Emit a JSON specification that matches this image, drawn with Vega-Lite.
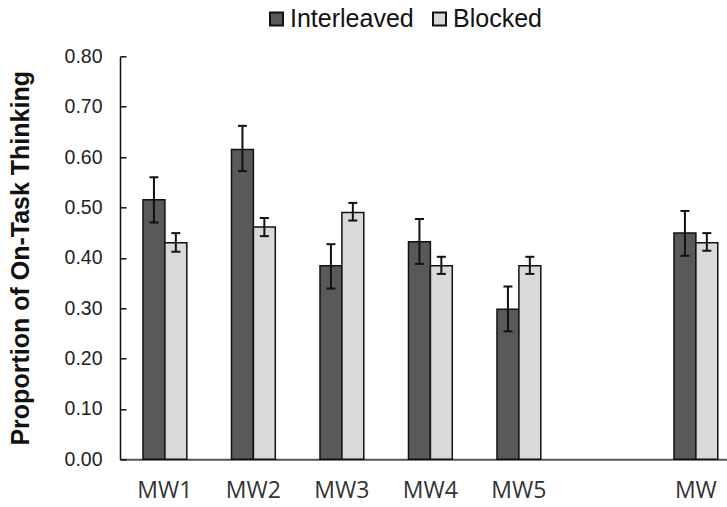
{
  "$schema": "https://vega.github.io/schema/vega-lite/v6.json",
  "width": 607,
  "height": 403,
  "autosize": {"type": "none"},
  "padding": {"left": 120, "top": 56.3, "right": 0, "bottom": 47.7},
  "background": "white",
  "config": {"view": {"stroke": null}},
  "data": {
    "values": [
      {"cat": "MW1", "cond": "Interleaved", "value": 0.515, "lo": 0.470, "hi": 0.560},
      {"cat": "MW1", "cond": "Blocked", "value": 0.430, "lo": 0.412, "hi": 0.449},
      {"cat": "MW2", "cond": "Interleaved", "value": 0.615, "lo": 0.572, "hi": 0.662},
      {"cat": "MW2", "cond": "Blocked", "value": 0.461, "lo": 0.443, "hi": 0.479},
      {"cat": "MW3", "cond": "Interleaved", "value": 0.384, "lo": 0.339, "hi": 0.427},
      {"cat": "MW3", "cond": "Blocked", "value": 0.490, "lo": 0.474, "hi": 0.509},
      {"cat": "MW4", "cond": "Interleaved", "value": 0.432, "lo": 0.388, "hi": 0.477},
      {"cat": "MW4", "cond": "Blocked", "value": 0.384, "lo": 0.368, "hi": 0.402},
      {"cat": "MW5", "cond": "Interleaved", "value": 0.298, "lo": 0.254, "hi": 0.343},
      {"cat": "MW5", "cond": "Blocked", "value": 0.384, "lo": 0.368, "hi": 0.402},
      {"cat": "MW", "cond": "Interleaved", "value": 0.449, "lo": 0.404, "hi": 0.493},
      {"cat": "MW", "cond": "Blocked", "value": 0.430, "lo": 0.414, "hi": 0.449}
    ]
  },
  "encoding": {
    "x": {
      "field": "cat",
      "type": "nominal",
      "sort": null,
      "scale": {
        "domain": ["MW1", "MW2", "MW3", "MW4", "MW5", " ", "MW"],
        "paddingInner": 0.505,
        "paddingOuter": 0.182,
        "align": 0.714,
        "round": false
      },
      "axis": {
        "title": null,
        "ticks": false,
        "labelAngle": 0,
        "labelFont": "Open Sans",
        "labelFontSize": 23,
        "labelColor": "#333333",
        "labelPadding": 20,
        "domainColor": "#555555",
        "domainWidth": 2
      }
    },
    "xOffset": {
      "field": "cond",
      "type": "nominal",
      "scale": {"domain": ["Interleaved", "Blocked"], "paddingInner": 0, "paddingOuter": 0}
    }
  },
  "layer": [
    {
      "mark": {"type": "bar", "stroke": "#111111", "strokeWidth": 1.5},
      "encoding": {
        "y": {
          "field": "value",
          "type": "quantitative",
          "scale": {"domain": [0, 0.8], "nice": false},
          "axis": {
            "title": "Proportion of On-Task Thinking",
            "values": [0, 0.1, 0.2, 0.3, 0.4, 0.5, 0.6, 0.7, 0.8],
            "format": ".2f",
            "grid": false,
            "tickSize": -6,
            "tickColor": "#111111",
            "tickWidth": 1.5,
            "domainColor": "#111111",
            "domainWidth": 1.5,
            "labelFont": "Liberation Sans",
            "labelFontSize": 19.5,
            "labelColor": "#222222",
            "labelPadding": 24,
            "titleFont": "Liberation Sans",
            "titleFontSize": 25,
            "titleFontWeight": "bold",
            "titleColor": "#111111",
            "titlePadding": 31
          }
        },
        "color": {
          "field": "cond",
          "type": "nominal",
          "scale": {"domain": ["Interleaved", "Blocked"], "range": ["#595959", "#d9d9d9"]},
          "legend": {
            "orient": "none",
            "legendX": 144,
            "legendY": -50,
            "direction": "horizontal",
            "title": null,
            "padding": 0,
            "symbolType": "square",
            "symbolSize": 169,
            "symbolStrokeColor": "#111111",
            "symbolStrokeWidth": 2,
            "symbolOpacity": 1,
            "labelFont": "Liberation Sans",
            "labelFontSize": 25,
            "labelColor": "#111111",
            "labelOffset": 1,
            "columnPadding": 13
          }
        }
      }
    },
    {
      "mark": {"type": "rule", "color": "#111111", "strokeWidth": 2},
      "encoding": {
        "y": {"field": "lo", "type": "quantitative"},
        "y2": {"field": "hi"}
      }
    },
    {
      "mark": {"type": "tick", "color": "#111111", "thickness": 2, "size": 9, "opacity": 1},
      "encoding": {"y": {"field": "lo", "type": "quantitative"}}
    },
    {
      "mark": {"type": "tick", "color": "#111111", "thickness": 2, "size": 9, "opacity": 1},
      "encoding": {"y": {"field": "hi", "type": "quantitative"}}
    }
  ]
}
